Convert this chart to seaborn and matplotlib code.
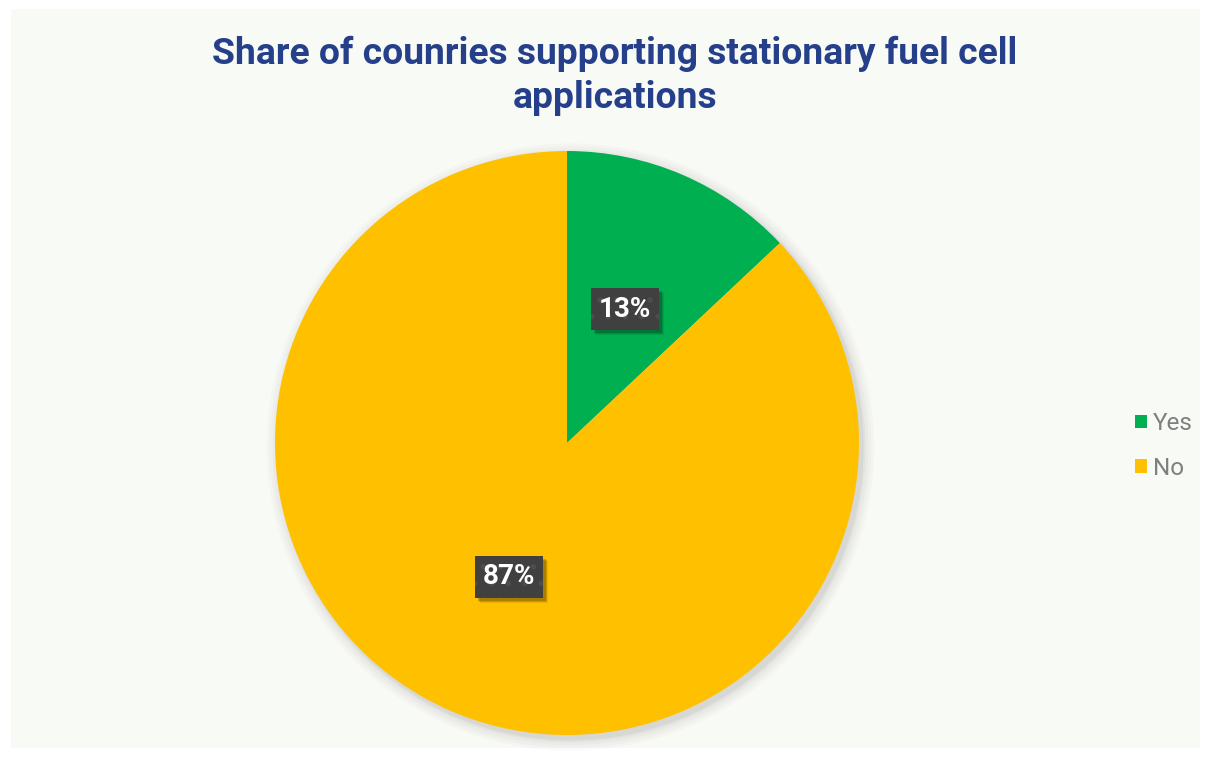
import matplotlib
matplotlib.use("Agg")
import matplotlib.pyplot as plt
from matplotlib.patches import Rectangle, Circle
from matplotlib.transforms import IdentityTransform
import numpy as np
import seaborn as sns

categories = ["Yes", "No"]
shares = [13, 87]
colors = ["#00b050", "#ffc000"]
title_text = "Share of counries supporting stationary fuel cell\napplications"

sns.set_theme(style="white")
plt.rcParams["font.family"] = ["Roboto", "DejaVu Sans"]
plt.rcParams["hatch.linewidth"] = 1.6

W, H = 1211, 757
fig = plt.figure(figsize=(W / 100, H / 100), dpi=100, facecolor="white")

# light chart panel
fig.patches.append(Rectangle((11 / W, 9 / H), (1200 - 11) / W, (748 - 9) / H,
                             transform=fig.transFigure, facecolor="#f8faf5",
                             edgecolor="none", zorder=-5))

# pie axes: centre (567, 443), radius 292 px
R = 292
cx, cy = 567, 443
ax = fig.add_axes([(cx - R) / W, (H - cy - R) / H, 2 * R / W, 2 * R / H])
ax.set_facecolor("none")

# soft drop shadow behind the pie
for d, a in [(1.04, 0.03), (1.03, 0.04), (1.02, 0.05), (1.01, 0.07), (1.004, 0.09)]:
    ax.add_patch(Circle((0.012, -0.014), d, facecolor="#7a7a7a", alpha=a,
                        edgecolor="none", zorder=0, clip_on=False))

wedges, _ = ax.pie(shares, colors=colors, startangle=90, counterclock=False,
                   radius=1.0, wedgeprops=dict(linewidth=0, zorder=2))

ax.set_aspect("equal")
ax.set_axis_off()
ax.set_xlim(-1, 1)
ax.set_ylim(-1, 1)
for p in ax.patches:
    p.set_clip_on(False)

# value labels in dark boxes
labels = []
start = 90.0
total = sum(shares)
for v in shares:
    span = 360.0 * v / total
    mid = np.deg2rad(start - span / 2)
    start -= span
    x, y = 0.5 * np.cos(mid), 0.5 * np.sin(mid)
    t = ax.text(x, y, f"{v}%", ha="center", va="center", color="white",
                fontsize=20, fontweight="bold", zorder=5,
                bbox=dict(boxstyle="square,pad=0.28", facecolor="#404040",
                          edgecolor="#4d4d4d", linewidth=0, hatch="."))
    labels.append(t)

# soft shadows under the label boxes, placed from the rendered box extents
fig.canvas.draw()
for t in labels:
    ext = t.get_bbox_patch().get_window_extent()
    for k, a in [(5, 0.08), (4, 0.12), (3, 0.18)]:
        ax.add_artist(Rectangle((ext.x0 + k, ext.y0 - k), ext.width, ext.height,
                                transform=IdentityTransform(),
                                facecolor=(0, 0, 0, a), edgecolor="none",
                                zorder=4, clip_on=False))

# title
fig.text(615 / W, 1 - 76 / H, title_text, ha="center", va="center",
         fontsize=26.8, fontweight="bold", color="#253f8a", linespacing=1.28)

# legend
leg = fig.legend(wedges, categories, loc="center left",
                 bbox_to_anchor=(1113 / W, 1 - 446 / H), frameon=False,
                 fontsize=17.5, handlelength=0.5, handleheight=0.5,
                 handletextpad=0.25, labelspacing=0.9)
for txt in leg.get_texts():
    txt.set_color("#7f7f7f")

fig.savefig("out.png", dpi=100, facecolor="white")
